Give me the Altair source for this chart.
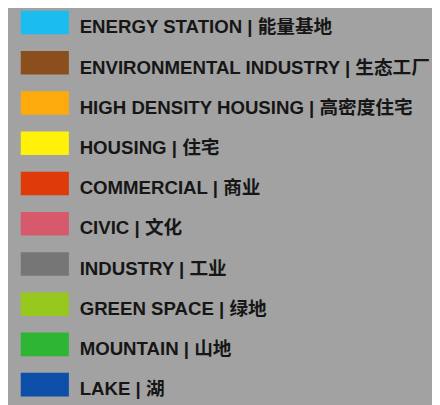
import altair as alt
import pandas as pd

labels_en = ["ENERGY STATION", "ENVIRONMENTAL INDUSTRY", "HIGH DENSITY HOUSING",
             "HOUSING", "COMMERCIAL", "CIVIC", "INDUSTRY", "GREEN SPACE",
             "MOUNTAIN", "LAKE"]
labels_zh = ["能量基地", "生态工厂", "高密度住宅", "住宅", "商业", "文化", "工业",
             "绿地", "山地", "湖"]
colors = ["#1bbcf0", "#8a4f1c", "#fdab0c", "#fff10a", "#df3a0a", "#d65a6c",
          "#767676", "#96c81e", "#2fb534", "#0c4ea8"]

df = pd.DataFrame({
    "key": labels_en,
    "label": [f"{e} | {z}" for e, z in zip(labels_en, labels_zh)],
    "color": colors,
})

yenc = alt.Y("key:N", sort=labels_en, axis=None,
             scale=alt.Scale(range=[-1, 392], paddingInner=17 / 41, paddingOuter=0))

swatch = alt.Chart(df).mark_rect().encode(
    y=yenc,
    x=alt.value(13), x2=alt.value(62),
    color=alt.Color("color:N", scale=None, legend=None),
)

text = alt.Chart(df).mark_text(
    align="left", baseline="alphabetic", dy=11,
    font="Liberation Sans, Arial, Noto Sans CJK SC", fontSize=19,
    fontWeight="bold", color="#161616",
).encode(
    y=yenc,
    x=alt.value(73),
    text="label:N",
)

chart = alt.layer(swatch, text).properties(
    width=432, height=397, background="#a2a2a2", padding=0,
    autosize=alt.AutoSizeParams(type="none"),
).configure_view(stroke=None)

chart.save("out.html", embed_options={"renderer": "svg", "actions": False})
